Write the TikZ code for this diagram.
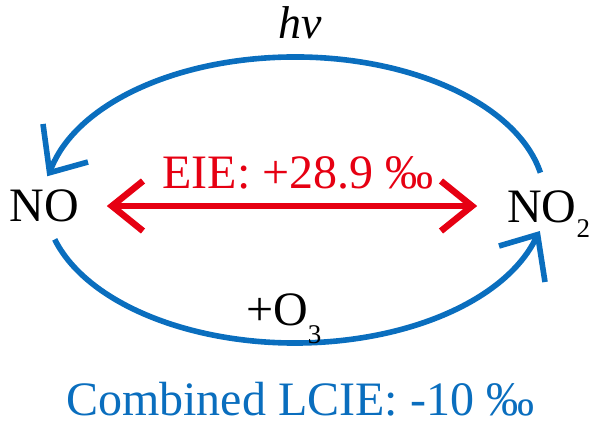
\documentclass[tikz,border=0pt]{standalone}
\usepackage{fontspec}
\setmainfont{Liberation Serif}
\definecolor{cycblue}{RGB}{10,110,190}
\definecolor{eiered}{RGB}{230,0,18}
\tikzset{
  cycle/.style={draw=cycblue, line width=5.6pt, line cap=butt},
  headline/.style={draw=cycblue, line width=5.6pt, line cap=butt, line join=miter},
  eieline/.style={draw=eiered, line width=6.5pt, line cap=butt, line join=miter},
  big/.style={font=\fontsize{48}{48}\selectfont, inner sep=0pt, anchor=base},
}
\begin{document}
\begin{tikzpicture}[x=1pt,y=-1pt]
\useasboundingbox (0,0) rectangle (600,426);
% species
\node[big] (no) at (44.5,221) {NO};
\node[big, anchor=base west] (no2) at (507,222) {NO\raisebox{-15pt}{\fontsize{27}{27}\selectfont 2}};
% photolysis (top arc)
\coordinate (tstart) at (540.4,172.7);
\coordinate (tend) at (49.6,172.7);
\draw[cycle] (tstart) arc[start angle=11, end angle=169, x radius=250pt, y radius=143pt];
\draw[headline] (43,124) -- (tend) -- (88,162);
\node[big, font=\fontsize{46}{46}\selectfont\itshape] (hv) at (300,38) {hv};
% ozone reaction (bottom arc)
\coordinate (bstart) at (54.7,239.4);
\coordinate (bend) at (537.6,234.6);
\draw[cycle] (bstart) arc[start angle=196, end angle=346, x radius=250pt, y radius=143pt];
\draw[headline] (499,246) -- (bend) -- (545,282);
\node[big, anchor=base west] (o3) at (246,325) {+O\raisebox{-18pt}{\fontsize{27}{27}\selectfont 3}};
% EIE arrow
\coordinate (eL) at (112,206);
\coordinate (eR) at (472,206);
\draw[eieline] (eL) -- (eR);
\draw[eieline] (143,181) -- (eL) -- (143,231);
\draw[eieline] (441,181) -- (eR) -- (441,231);
\node[big, text=eiered] (eie) at (298,188) {EIE: +28.9 ‰};
% combined
\node[big, text=cycblue] (lcie) at (300,415) {Combined LCIE: -10 ‰};
\end{tikzpicture}
\end{document}
